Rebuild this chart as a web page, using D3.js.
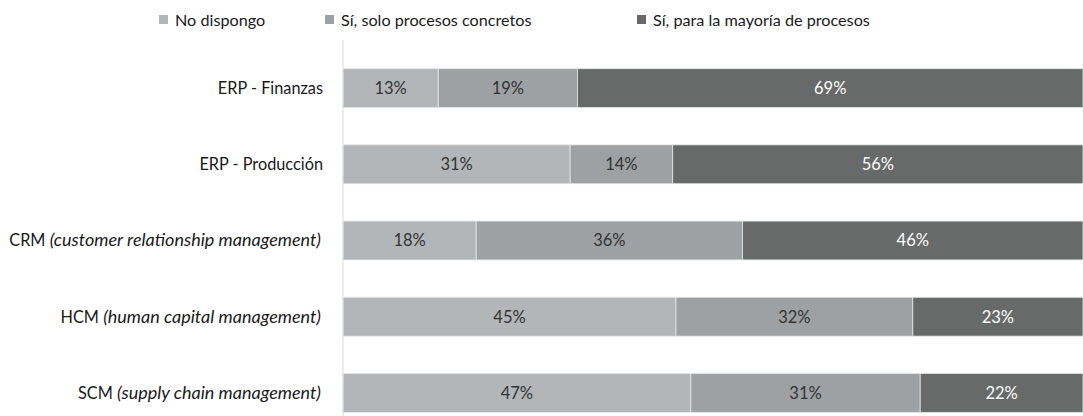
<!DOCTYPE html>
<html>
<head>
<meta charset="utf-8">
<script src="https://cdn.jsdelivr.net/npm/d3@7"></script>
<style>
  html, body { margin: 0; padding: 0; background: #fff; }
  svg { display: block; font-family: Lato, "Open Sans", sans-serif; }
</style>
</head>
<body>
<svg id="chart" width="1083" height="416"></svg>
<script>
// Categories: [main label, italic description]
const categories = [
  ["ERP - Finanzas", ""],
  ["ERP - Producción", ""],
  ["CRM", "(customer relationship management)"],
  ["HCM", "(human capital management)"],
  ["SCM", "(supply chain management)"]
];
const seriesNames = ["No dispongo", "Sí, solo procesos concretos", "Sí, para la mayoría de procesos"];
const noDispongo    = [13, 31, 18, 45, 47];
const soloConcretos = [19, 14, 36, 32, 31];
const mayoria       = [69, 56, 46, 23, 22];
const colors = ["#b3b6b8", "#9ea1a3", "#686a69"];
const labelColors = ["#333333", "#333333", "#ffffff"];

const keys = ["a", "b", "c"];
const rows = categories.map((c, i) => ({
  cat: c[0] + (c[1] ? " " + c[1] : ""),
  main: c[0], desc: c[1],
  a: noDispongo[i], b: soloConcretos[i], c: mayoria[i]
}));

const svg = d3.select("#chart");
const margin = { left: 343, right: 0 };
const W = 1083, H = 416;

const x = d3.scaleLinear().domain([0, 1]).range([margin.left, W - margin.right]);
const y = d3.scaleBand().domain(rows.map(r => r.cat)).range([50, 431]).paddingInner(0.49).paddingOuter(0.245);

const stack = d3.stack().keys(keys).offset(d3.stackOffsetExpand);
const series = stack(rows);

// Stacked bars with value labels
const g = svg.append("g");
series.forEach((s, si) => {
  g.selectAll(null).data(s).enter().append("rect")
    .attr("x", d => x(d[0]))
    .attr("y", d => y(d.data.cat))
    .attr("width", d => x(d[1]) - x(d[0]))
    .attr("height", y.bandwidth())
    .attr("fill", colors[si])
    .attr("stroke", "#e6e6e6")
    .attr("stroke-width", 0.8);
  g.selectAll(null).data(s).enter().append("text")
    .attr("x", d => (x(d[0]) + x(d[1])) / 2)
    .attr("y", d => y(d.data.cat) + y.bandwidth() / 2)
    .attr("dy", "0.36em")
    .attr("text-anchor", "middle")
    .attr("font-size", 16.5)
    .attr("fill", labelColors[si])
    .text(d => d.data[keys[si]] + "%");
});

// Vertical axis line
svg.append("line")
  .attr("x1", margin.left).attr("x2", margin.left)
  .attr("y1", 40).attr("y2", H)
  .attr("stroke", "#d9d9d9").attr("stroke-width", 1);

// Category labels
const labels = svg.append("g");
rows.forEach(r => {
  const t = labels.append("text")
    .attr("x", r.desc ? 321 : 323)
    .attr("y", y(r.cat) + y.bandwidth() / 2)
    .attr("dy", "0.36em")
    .attr("text-anchor", "end")
    .attr("font-size", 16.3)
    .attr("fill", "#1a1a1a");
  t.append("tspan").text(r.main);
  if (r.desc) t.append("tspan").attr("font-style", "italic").attr("font-size", 18).text(" " + r.desc);
});

// Legend
const legendX = [159, 325, 637];
const legend = svg.append("g");
seriesNames.forEach((n, i) => {
  legend.append("rect")
    .attr("x", legendX[i]).attr("y", 15)
    .attr("width", 9).attr("height", 9)
    .attr("fill", colors[i]);
  legend.append("text")
    .attr("x", legendX[i] + 16).attr("y", 20)
    .attr("dy", "0.36em")
    .attr("font-size", 16.2)
    .attr("fill", "#1a1a1a")
    .text(n);
});
</script>
</body>
</html>
